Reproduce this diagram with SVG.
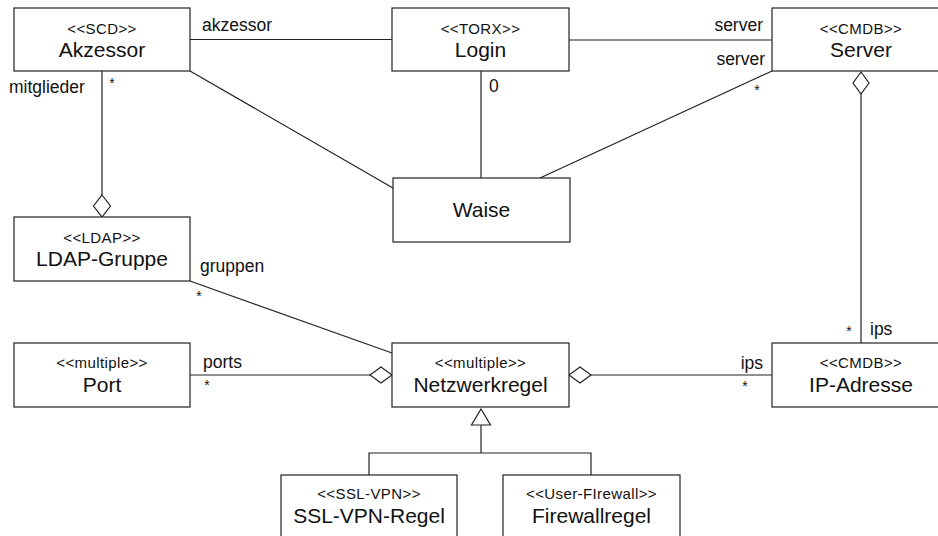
<svg xmlns="http://www.w3.org/2000/svg" width="938" height="536" viewBox="0 0 938 536">
  <style>
    .box { fill: #ffffff; stroke: #222; stroke-width: 1.2; }
    .line { fill: none; stroke: #222; stroke-width: 1.2; }
    .agg { fill: #ffffff; stroke: #222; stroke-width: 1.2; }
    text { font-family: "Liberation Sans", Arial, Helvetica, sans-serif; fill: #111; }
    .st { font-size: 15px; letter-spacing: 0.4px; text-anchor: middle; }
    .nm { font-size: 21px; text-anchor: middle; }
    .lb { font-size: 17.5px; }
    .end { text-anchor: end; }
    .mul { font-size: 14px; text-anchor: middle; }
  </style>
  <rect width="938" height="536" fill="#ffffff"/>

  <!-- connectors -->
  <g id="connectors">
    <!-- Akzessor - Login -->
    <line class="line" x1="190" y1="39.5" x2="392" y2="39.5"/>
    <text class="lb" x="202" y="31">akzessor</text>
    <!-- Login - Server -->
    <line class="line" x1="569" y1="40" x2="772" y2="40"/>
    <text class="lb end" x="763" y="31">server</text>
    <!-- Login - Waise -->
    <line class="line" x1="481" y1="71" x2="481" y2="178"/>
    <text class="lb" x="489" y="92">0</text>
    <!-- Akzessor - Waise -->
    <line class="line" x1="190" y1="71" x2="393" y2="188"/>
    <!-- Server - Waise -->
    <line class="line" x1="772" y1="71" x2="540" y2="178"/>
    <text class="lb end" x="765" y="65">server</text>
    <text class="mul" x="757" y="95">*</text>
    <!-- Akzessor - LDAP-Gruppe (aggregation) -->
    <line class="line" x1="102" y1="71" x2="102" y2="195"/>
    <polygon class="agg" points="102,195 110.5,206 102,217 93.5,206"/>
    <text class="lb" x="9" y="93">mitglieder</text>
    <text class="mul" x="112" y="88">*</text>
    <!-- LDAP-Gruppe - Netzwerkregel -->
    <line class="line" x1="190" y1="281" x2="392" y2="353"/>
    <text class="lb" x="200" y="272">gruppen</text>
    <text class="mul" x="199" y="301">*</text>
    <!-- Port - Netzwerkregel (aggregation) -->
    <line class="line" x1="190" y1="375" x2="370" y2="375"/>
    <polygon class="agg" points="370,375 381,367 392,375 381,383"/>
    <text class="lb" x="203" y="368">ports</text>
    <text class="mul" x="207" y="390">*</text>
    <!-- IP-Adresse - Netzwerkregel (aggregation) -->
    <line class="line" x1="591" y1="375" x2="772" y2="375"/>
    <polygon class="agg" points="569,375 580,367 591,375 580,383"/>
    <text class="lb end" x="763" y="369">ips</text>
    <text class="mul" x="745" y="391">*</text>
    <!-- Server - IP-Adresse (aggregation) -->
    <line class="line" x1="861" y1="94" x2="861" y2="343"/>
    <polygon class="agg" points="861,72 869,83 861,94 853,83"/>
    <text class="mul" x="849" y="336">*</text>
    <text class="lb" x="870" y="335">ips</text>
    <!-- generalisation -->
    <polygon class="agg" points="481,409 490.5,425 471.5,425"/>
    <polyline class="line" points="481,425 481,453"/>
    <polyline class="line" points="369,475 369,453 591,453 591,475"/>
  </g>

  <!-- nodes -->
  <g id="akzessor">
    <rect class="box" x="14" y="8" width="176" height="63"/>
    <text class="st" x="102" y="34">&lt;&lt;SCD&gt;&gt;</text>
    <text class="nm" x="102" y="57">Akzessor</text>
  </g>
  <g id="login">
    <rect class="box" x="392" y="8" width="177" height="63"/>
    <text class="st" x="480.5" y="34">&lt;&lt;TORX&gt;&gt;</text>
    <text class="nm" x="480.5" y="57">Login</text>
  </g>
  <g id="server">
    <rect class="box" x="772" y="8" width="178" height="63"/>
    <text class="st" x="861" y="34">&lt;&lt;CMDB&gt;&gt;</text>
    <text class="nm" x="861" y="57">Server</text>
  </g>
  <g id="waise">
    <rect class="box" x="393" y="178" width="177" height="64"/>
    <text class="nm" x="481.5" y="217">Waise</text>
  </g>
  <g id="ldap-gruppe">
    <rect class="box" x="14" y="217" width="176" height="64"/>
    <text class="st" x="102" y="243">&lt;&lt;LDAP&gt;&gt;</text>
    <text class="nm" x="102" y="266">LDAP-Gruppe</text>
  </g>
  <g id="port">
    <rect class="box" x="14" y="343" width="176" height="64"/>
    <text class="st" x="102" y="368">&lt;&lt;multiple&gt;&gt;</text>
    <text class="nm" x="102" y="392">Port</text>
  </g>
  <g id="netzwerkregel">
    <rect class="box" x="392" y="343" width="177" height="64"/>
    <text class="st" x="480.5" y="368">&lt;&lt;multiple&gt;&gt;</text>
    <text class="nm" x="480.5" y="392">Netzwerkregel</text>
  </g>
  <g id="ip-adresse">
    <rect class="box" x="772" y="343" width="178" height="64"/>
    <text class="st" x="861" y="368">&lt;&lt;CMDB&gt;&gt;</text>
    <text class="nm" x="861" y="392">IP-Adresse</text>
  </g>
  <g id="ssl-vpn-regel">
    <rect class="box" x="281" y="475" width="176" height="70"/>
    <text class="st" x="369" y="499">&lt;&lt;SSL-VPN&gt;&gt;</text>
    <text class="nm" x="369" y="523">SSL-VPN-Regel</text>
  </g>
  <g id="firewallregel">
    <rect class="box" x="503" y="475" width="177" height="70"/>
    <text class="st" x="591.5" y="499">&lt;&lt;User-FIrewall&gt;&gt;</text>
    <text class="nm" x="591.5" y="523">Firewallregel</text>
  </g>
</svg>
